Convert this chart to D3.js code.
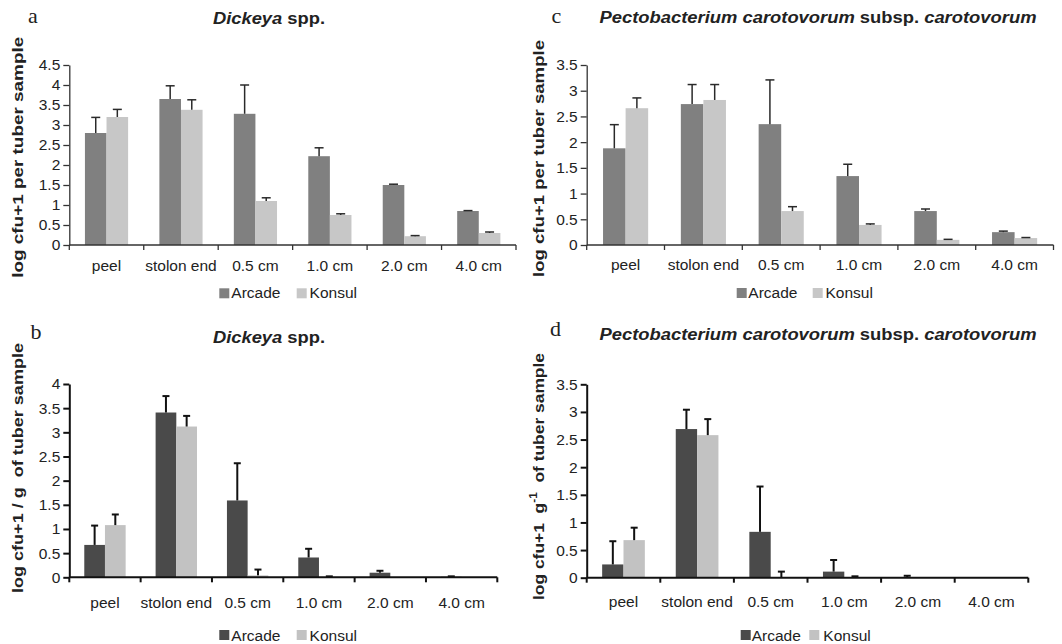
<!DOCTYPE html>
<html>
<head>
<meta charset="utf-8">
<script src="https://cdn.jsdelivr.net/npm/d3@7"></script>
<style>
  html, body { margin: 0; padding: 0; background: #fff; }
  svg { display: block; }
  text { font-family: "Liberation Sans", Arial, sans-serif; fill: #222; }
  .serif { font-family: "Liberation Serif", "Times New Roman", serif; }
</style>
</head>
<body>
<svg id="chart" width="1062" height="644"></svg>
<script>
// ---------------- DATA ----------------
const categories = ["peel", "stolon end", "0.5 cm", "1.0 cm", "2.0 cm", "4.0 cm"];
const seriesNames = ["Arcade", "Konsul"];

// (a) Dickeya spp. — log cfu+1 per tuber sample
const aArcade    = [2.80, 3.65, 3.28, 2.22, 1.50, 0.85];
const aArcadeErr = [0.39, 0.33, 0.72, 0.21, 0.02, 0.01];
const aKonsul    = [3.20, 3.38, 1.10, 0.75, 0.22, 0.30];
const aKonsulErr = [0.19, 0.25, 0.08, 0.03, 0.015, 0.025];

// (b) Dickeya spp. — log cfu+1 / g of tuber sample
const bArcade    = [0.67, 3.41, 1.59, 0.41, 0.095, 0.01];
const bArcadeErr = [0.40, 0.34, 0.77, 0.18, 0.04, 0.01];
const bKonsul    = [1.08, 3.12, 0.04, 0.01, 0.005, 0.005];
const bKonsulErr = [0.22, 0.22, 0.12, 0.01, 0, 0];

// (c) Pectobacterium carotovorum subsp. carotovorum — per tuber sample
const cArcade    = [1.88, 2.74, 2.35, 1.34, 0.66, 0.25];
const cArcadeErr = [0.46, 0.38, 0.86, 0.23, 0.04, 0.02];
const cKonsul    = [2.66, 2.82, 0.66, 0.39, 0.10, 0.135];
const cKonsulErr = [0.20, 0.30, 0.085, 0.02, 0.01, 0.01];

// (d) Pectobacterium carotovorum subsp. carotovorum — per g of tuber sample
const dArcade    = [0.24, 2.69, 0.83, 0.11, 0.01, 0.005];
const dArcadeErr = [0.42, 0.35, 0.82, 0.21, 0.025, 0];
const dKonsul    = [0.68, 2.58, 0.005, 0.005, 0.005, 0.005];
const dKonsulErr = [0.225, 0.29, 0.105, 0.02, 0, 0];

const yMaxA = 4.5, yMaxB = 4, yMaxC = 3.5, yMaxD = 3.5;

// ---------------- LAYOUT ----------------
const svg = d3.select("#chart");
const FS = 15.5;

const panels = [
  { letter: "a", letterX: 28, letterY: 23,
    title: [{t: "Dickeya", i: true}, {t: " spp.", i: false}], titleX: 269, titleY: 23.5, titleLen: 112,
    yTitle: [{t: "log cfu+1 per tuber sample"}], yTitleX: 23, yTitleY: 157.3, yTitleLen: 241,
    x0: 69.3, x1: 516, yTop: 65, yBottom: 245, ymax: yMaxA, labelY: 270.5,
    arcade: aArcade, arcadeErr: aArcadeErr, konsul: aKonsul, konsulErr: aKonsulErr,
    colors: ["#808080", "#c7c7c7"], axisW: 1.3, axisC: "#333", errW: 1.5, errC: "#2a2a2a", cap: 9,
    legY: 288.3, legTextY: 298.3, legSq: [219.3, 296.7], legTx: [231.3, 309.6] },
  { letter: "c", letterX: 551.5, letterY: 22.7,
    title: [{t: "Pectobacterium carotovorum", i: true}, {t: " subsp. ", i: false}, {t: "carotovorum", i: true}],
    titleX: 818, titleY: 23.3, titleLen: 437,
    yTitle: [{t: "log cfu+1 per tuber sample"}], yTitleX: 544, yTitleY: 158.5, yTitleLen: 237,
    x0: 586.7, x1: 1053.5, yTop: 65, yBottom: 245, ymax: yMaxC, labelY: 270,
    arcade: cArcade, arcadeErr: cArcadeErr, konsul: cKonsul, konsulErr: cKonsulErr,
    colors: ["#808080", "#c7c7c7"], axisW: 1.3, axisC: "#333", errW: 1.5, errC: "#2a2a2a", cap: 9,
    legY: 288, legTextY: 297.8, legSq: [736.7, 812.7], legTx: [748.3, 825.5] },
  { letter: "b", letterX: 30.5, letterY: 339.3,
    title: [{t: "Dickeya", i: true}, {t: " spp.", i: false}], titleX: 269, titleY: 342.5, titleLen: 112,
    yTitle: [{t: "log cfu+1 / g  of tuber sample"}], yTitleX: 23, yTitleY: 468, yTitleLen: 250,
    x0: 69.3, x1: 497.3, yTop: 384, yBottom: 577.3, ymax: yMaxB, labelY: 608,
    arcade: bArcade, arcadeErr: bArcadeErr, konsul: bKonsul, konsulErr: bKonsulErr,
    colors: ["#4a4a4a", "#c2c2c2"], axisW: 2, axisC: "#111", errW: 2, errC: "#111", cap: 7,
    legY: 630, legTextY: 640.5, legSq: [219.3, 296.7], legTx: [231.3, 309.6] },
  { letter: "d", letterX: 550, letterY: 336,
    title: [{t: "Pectobacterium carotovorum", i: true}, {t: " subsp. ", i: false}, {t: "carotovorum", i: true}],
    titleX: 818, titleY: 339.5, titleLen: 437,
    yTitle: [{t: "log cfu+1  g"}, {t: "-1", sup: true}, {t: "  of tuber sample"}], yTitleX: 544, yTitleY: 476.5, yTitleLen: 247,
    x0: 586.7, x1: 1028.3, yTop: 384.3, yBottom: 577.7, ymax: yMaxD, labelY: 607,
    arcade: dArcade, arcadeErr: dArcadeErr, konsul: dKonsul, konsulErr: dKonsulErr,
    colors: ["#4a4a4a", "#c2c2c2"], axisW: 2, axisC: "#111", errW: 2, errC: "#111", cap: 7,
    legY: 630, legTextY: 640.5, legSq: [740.7, 809.3], legTx: [751.7, 823.3] }
];

function drawPanel(p) {
  const g = svg.append("g");

  const x = d3.scaleBand().domain(categories).range([p.x0, p.x1])
    .paddingInner(0.42).paddingOuter(0.21);
  const xs = d3.scaleBand().domain(seriesNames).range([0, x.bandwidth()]);
  const y = d3.scaleLinear().domain([0, p.ymax]).range([p.yBottom, p.yTop]);
  const color = d3.scaleOrdinal().domain(seriesNames).range(p.colors);

  const rows = [];
  categories.forEach((c, i) => {
    rows.push({ cat: c, s: "Arcade", v: p.arcade[i], e: p.arcadeErr[i] });
    rows.push({ cat: c, s: "Konsul", v: p.konsul[i], e: p.konsulErr[i] });
  });

  // bars
  g.selectAll("rect.bar").data(rows).join("rect")
    .attr("class", "bar")
    .attr("x", d => x(d.cat) + xs(d.s))
    .attr("y", d => y(d.v))
    .attr("width", xs.bandwidth())
    .attr("height", d => y(0) - y(d.v))
    .attr("fill", d => color(d.s));

  // error bars (upper only)
  const eb = g.selectAll("g.err").data(rows.filter(d => d.e > 0)).join("g").attr("class", "err");
  eb.append("line")
    .attr("x1", d => x(d.cat) + xs(d.s) + xs.bandwidth() / 2)
    .attr("x2", d => x(d.cat) + xs(d.s) + xs.bandwidth() / 2)
    .attr("y1", d => y(d.v))
    .attr("y2", d => y(d.v + d.e))
    .attr("stroke", p.errC).attr("stroke-width", p.errW);
  eb.append("line")
    .attr("x1", d => x(d.cat) + xs(d.s) + xs.bandwidth() / 2 - p.cap / 2)
    .attr("x2", d => x(d.cat) + xs(d.s) + xs.bandwidth() / 2 + p.cap / 2)
    .attr("y1", d => y(d.v + d.e))
    .attr("y2", d => y(d.v + d.e))
    .attr("stroke", p.errC).attr("stroke-width", p.errW);

  // y axis
  const yAxis = d3.axisLeft(y)
    .tickValues(d3.range(0, p.ymax + 0.001, 0.5))
    .tickFormat(d3.format(""))
    .tickSize(6).tickSizeOuter(0).tickPadding(3);
  const ga = g.append("g").attr("transform", `translate(${p.x0},0)`).call(yAxis);
  ga.select(".domain").attr("stroke", p.axisC).attr("stroke-width", p.axisW);
  ga.selectAll(".tick line").attr("stroke", p.axisC).attr("stroke-width", p.axisW);
  ga.selectAll(".tick text").attr("font-size", FS).attr("fill", "#222")
    .style("font-family", '"Liberation Sans", Arial, sans-serif');

  // x axis baseline with boundary ticks
  g.append("line").attr("x1", p.x0).attr("x2", p.x1).attr("y1", y(0)).attr("y2", y(0))
    .attr("stroke", p.axisC).attr("stroke-width", p.axisW);
  const bounds = d3.range(categories.length + 1).map(i => p.x0 + i * x.step());
  g.selectAll("line.xt").data(bounds).join("line").attr("class", "xt")
    .attr("x1", d => d).attr("x2", d => d)
    .attr("y1", y(0)).attr("y2", y(0) + 5)
    .attr("stroke", p.axisC).attr("stroke-width", p.axisW);

  // category labels
  g.selectAll("text.xl").data(categories).join("text").attr("class", "xl")
    .attr("x", d => x(d) + x.bandwidth() / 2)
    .attr("y", p.labelY)
    .attr("text-anchor", "middle")
    .attr("font-size", FS)
    .text(d => d);

  // panel letter
  g.append("text").attr("class", "serif")
    .attr("x", p.letterX).attr("y", p.letterY)
    .attr("font-size", 22).text(p.letter);

  // title
  const tt = g.append("text")
    .attr("x", p.titleX).attr("y", p.titleY)
    .attr("text-anchor", "middle")
    .attr("font-size", 16).attr("font-weight", "bold")
    .attr("textLength", p.titleLen).attr("lengthAdjust", "spacingAndGlyphs")
    .style("white-space", "pre");
  p.title.forEach(s => tt.append("tspan").attr("font-style", s.i ? "italic" : "normal").text(s.t));

  // y title
  const yt = g.append("text")
    .attr("transform", `translate(${p.yTitleX},${p.yTitleY}) rotate(-90)`)
    .attr("text-anchor", "middle")
    .attr("font-size", 15.5).attr("font-weight", "bold")
    .attr("textLength", p.yTitleLen).attr("lengthAdjust", "spacingAndGlyphs")
    .style("white-space", "pre");
  let shifted = false;
  p.yTitle.forEach(s => {
    const ts = yt.append("tspan").text(s.t);
    if (s.sup) { ts.attr("dy", -7).attr("font-size", 10.5); shifted = true; }
    else if (shifted) { ts.attr("dy", 7); shifted = false; }
  });

  // legend
  seriesNames.forEach((s, i) => {
    g.append("rect").attr("x", p.legSq[i]).attr("y", p.legY)
      .attr("width", 10).attr("height", 10).attr("fill", color(s));
    g.append("text").attr("x", p.legTx[i]).attr("y", p.legTextY)
      .attr("font-size", FS).text(s);
  });
}

panels.forEach(drawPanel);
</script>
</body>
</html>
